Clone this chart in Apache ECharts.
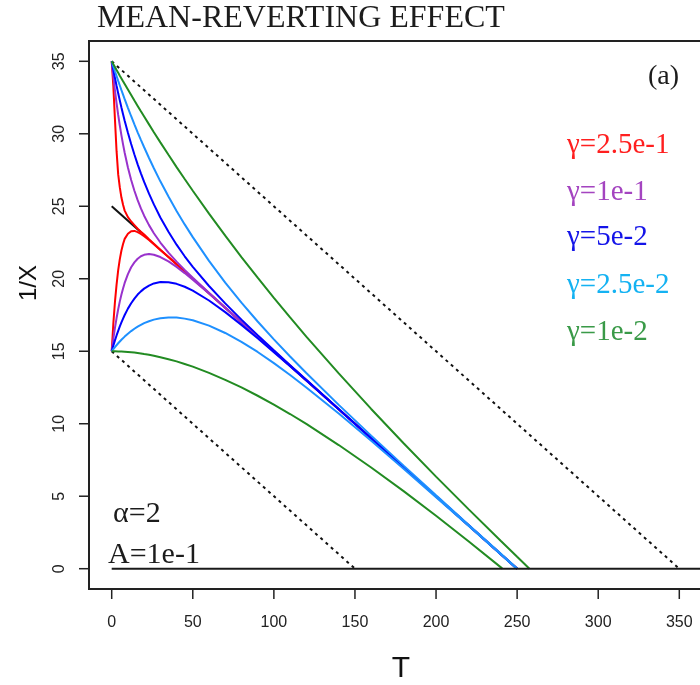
<html>
<head>
<meta charset="utf-8">
<script src="https://cdn.jsdelivr.net/npm/echarts@6/dist/echarts.min.js"></script>
<style>
  html, body { margin: 0; padding: 0; background: #fff; }
  #main { width: 700px; height: 685px; }
</style>
</head>
<body>
<div id="main"></div>
<script>
var chart = echarts.init(document.getElementById('main'));

// shared time grid (T) for all curves
var T = [0, 1, 2, 3, 4, 5, 6, 7, 8, 10, 12, 14, 16, 18, 20, 23, 26, 30, 35, 40, 45, 50,
         60, 70, 80, 90, 100, 110, 120, 140, 160, 180, 200, 220, 240, 250];

// 1/X, start 35 (hi) and start 15 (lo)
var redHi = [35, 33.3, 31.0, 28.8, 27.2, 26.3, 25.6, 25.1, 24.7, 24.25, 23.95, 23.7, 23.45, 23.25, 23.05, 22.72, 22.42, 22.0, 21.5, 21, 20.5, 20,
             19, 18, 17, 16, 15, 14, 13, 11, 9, 7, 5, 3, 1, 0];
var redLo = [15, 16.9, 18.4, 19.6, 20.6, 21.35, 21.95, 22.4, 22.75, 23.1, 23.28, 23.3, 23.22, 23.09, 22.93, 22.67, 22.38, 21.99, 21.5, 21, 20.5, 20,
             19, 18, 17, 16, 15, 14, 13, 11, 9, 7, 5, 3, 1, 0];
var purpleHi = [35, 33.95, 32.99, 32.11, 31.30, 30.57, 29.89, 29.27, 28.69, 27.68, 26.81, 26.07, 25.42, 24.85, 24.35, 23.70, 23.14, 22.50, 21.80, 21.18, 20.61, 20.07,
                19.03, 18.01, 17.0, 16, 15, 14, 13, 11, 9, 7, 5, 3, 1, 0];
var purpleLo = [15, 15.85, 16.61, 17.29, 17.90, 18.44, 18.91, 19.33, 19.71, 20.32, 20.79, 21.13, 21.38, 21.55, 21.65, 21.70, 21.66, 21.50, 21.20, 20.82, 20.39, 19.93,
                18.98, 17.99, 17.0, 16, 15, 14, 13, 11, 9, 7, 5, 3, 1, 0];
var blueHi = [35, 34.41, 33.85, 33.31, 32.79, 32.29, 31.81, 31.35, 30.90, 30.07, 29.29, 28.57, 27.89, 27.27, 26.68, 25.87, 25.13, 24.23, 23.24, 22.35, 21.55, 20.82,
              19.50, 18.30, 17.18, 16.11, 15.07, 14.04, 13.03, 11.01, 9, 7, 5, 3, 1, 0];
var blueLo = [15, 15.39, 15.75, 16.09, 16.41, 16.71, 16.99, 17.25, 17.50, 17.94, 18.31, 18.63, 18.91, 19.13, 19.32, 19.53, 19.68, 19.77, 19.76, 19.65, 19.45, 19.18,
              18.50, 17.70, 16.82, 15.89, 14.93, 13.96, 12.98, 10.99, 9, 7, 5, 3, 1, 0];
var skyHi = [35, 34.65, 34.31, 33.98, 33.65, 33.33, 33.01, 32.70, 32.39, 31.79, 31.21, 30.65, 30.10, 29.58, 29.07, 28.33, 27.62, 26.72, 25.67, 24.68, 23.75, 22.87,
             21.23, 19.74, 18.35, 17.05, 15.82, 14.64, 13.50, 11.30, 9.18, 7.11, 5.07, 3.04, 1.03, 0.02];
var skyLo = [15, 15.15, 15.29, 15.42, 15.55, 15.68, 15.79, 15.91, 16.01, 16.21, 16.39, 16.55, 16.70, 16.82, 16.94, 17.07, 17.18, 17.28, 17.33, 17.32, 17.25, 17.14,
             16.77, 16.26, 15.65, 14.95, 14.18, 13.36, 12.50, 10.70, 8.82, 6.89, 4.93, 2.96, 0.98, 0];
var greenHi = [35, 34.80, 34.60, 34.40, 34.21, 34.01, 33.82, 33.62, 33.43, 33.05, 32.67, 32.29, 31.92, 31.55, 31.19, 30.65, 30.11, 29.41, 28.55, 27.70, 26.88, 26.07,
               24.49, 22.97, 21.49, 20.07, 18.68, 17.33, 16.01, 13.47, 11.02, 8.65, 6.35, 4.11, 1.91, 0.82];
var greenLo = [15, 15.0, 15.0, 15.0, 14.99, 14.99, 14.98, 14.98, 14.97, 14.95, 14.93, 14.91, 14.88, 14.85, 14.81, 14.76, 14.69, 14.59, 14.45, 14.30, 14.12, 13.94,
               13.51, 13.03, 12.51, 11.93, 11.32, 10.67, 9.99, 8.53, 6.98, 5.35, 3.65, 1.89, 0.09];

// T where each curve reaches 0 (hi, lo)
var redEnd = [250, 250];
var purpleEnd = [250, 250];
var blueEnd = [250, 250];
var skyEnd = [250.2, 249.8];
var greenEnd = [257.6, 241];

// dotted reference lines: start value and T where they reach 0
var dotStart = [35, 15];
var dotEnd = [350, 150];
// short black asymptote
var blackSeg = [[0, 25], [18, 23.2]];
var zeroLine = [[0, 0], [364, 0]];

var xTicks = [0, 50, 100, 150, 200, 250, 300, 350];
var yTicks = [0, 5, 10, 15, 20, 25, 30, 35];
var xMin = -14, xMax = 364, yMin = -1.4, yMax = 36.4;

var gammaLabels = ['γ=2.5e-1', 'γ=1e-1', 'γ=5e-2', 'γ=2.5e-2', 'γ=1e-2'];
var lineColors = ['#ff0000', '#9932cc', '#0000ff', '#1e90ff', '#228b22'];
var textColors = ['#ff1f1f', '#a444c0', '#1414e8', '#14b2f2', '#3a9a48'];

function curve(ys, end) {
    var pts = [];
    for (var i = 0; i < ys.length; i++) {
        if (T[i] < end) pts.push([T[i], ys[i]]);
    }
    pts.push([end, 0]);
    return pts;
}

function lineSeries(data, color, width, type) {
    return {
        type: 'line',
        data: data,
        showSymbol: false,
        silent: true,
        smooth: false,
        lineStyle: { color: color, width: width, type: type || 'solid' }
    };
}

// outward tick marks on the frame edge, placed through the axes' own scales
function tickSeries(values, isX) {
    return {
        type: 'custom',
        silent: true,
        clip: false,
        data: values.map(function (v) { return isX ? [v, yMin] : [xMin, v]; }),
        renderItem: function (params, api) {
            var p = api.coord([api.value(0), api.value(1)]);
            return {
                type: 'line',
                shape: isX ? { x1: p[0], y1: p[1], x2: p[0], y2: p[1] + 10 }
                           : { x1: p[0], y1: p[1], x2: p[0] - 10, y2: p[1] },
                style: { stroke: '#222', lineWidth: 1.5 }
            };
        }
    };
}

var pairs = [
    [redHi, redLo, redEnd],
    [purpleHi, purpleLo, purpleEnd],
    [blueHi, blueLo, blueEnd],
    [skyHi, skyLo, skyEnd],
    [greenHi, greenLo, greenEnd]
];

var series = [];
for (var d = 0; d < dotStart.length; d++) {
    series.push(lineSeries([[0, dotStart[d]], [dotEnd[d], 0]], '#111', 2, [3, 4]));
}
series.push(lineSeries(blackSeg, '#111', 2));
pairs.forEach(function (p, k) {
    series.push(lineSeries(curve(p[0], p[2][0]), lineColors[k], 2));
    series.push(lineSeries(curve(p[1], p[2][1]), lineColors[k], 2));
});
series.push(lineSeries(zeroLine, '#1a1a1a', 2));
series.push(tickSeries(xTicks, true));
series.push(tickSeries(yTicks, false));

var serif = '"Liberation Serif", serif';
var graphics = [
    { type: 'text', left: 97, top: 3, style: { text: 'MEAN-REVERTING EFFECT', font: '32px ' + serif, fill: '#1c1c1c' } },
    { type: 'text', left: 648, top: 63, style: { text: '(a)', font: '28px ' + serif, fill: '#1c1c1c' } },
    { type: 'text', left: 113, top: 499, style: { text: 'α=2', font: '30px ' + serif, fill: '#1c1c1c' } },
    { type: 'text', left: 108, top: 540, style: { text: 'A=1e-1', font: '30px ' + serif, fill: '#1c1c1c' } },
    { type: 'text', x: 401, y: 669, style: { text: 'T', font: '30px "Liberation Sans"', fill: '#111', align: 'center', verticalAlign: 'middle' } },
    { type: 'text', x: 29, y: 283, rotation: Math.PI / 2, style: { text: '1/X', font: '24px "Liberation Sans"', fill: '#111', align: 'center', verticalAlign: 'middle' } }
];
var legendTops = [131, 178, 223, 271, 318];
gammaLabels.forEach(function (t, k) {
    graphics.push({ type: 'text', left: 567, top: legendTops[k], style: { text: t, font: '29px ' + serif, fill: textColors[k] } });
});

chart.setOption({
    animation: false,
    grid: {
        left: 89, top: 41, width: 613, height: 548,
        show: true, borderColor: '#222', borderWidth: 2,
        outerBoundsMode: 'none'
    },
    xAxis: {
        type: 'value', min: xMin, max: xMax,
        axisLine: { show: false, onZero: false },
        splitLine: { show: false },
        axisTick: { show: false },
        axisLabel: { customValues: xTicks, fontSize: 16, color: '#222', margin: 26, fontFamily: 'Liberation Sans' }
    },
    yAxis: {
        type: 'value', min: yMin, max: yMax,
        axisLine: { show: false, onZero: false },
        splitLine: { show: false },
        axisTick: { show: false },
        axisLabel: { customValues: yTicks, fontSize: 16, color: '#222', margin: 21, rotate: 90, fontFamily: 'Liberation Sans' }
    },
    graphic: graphics,
    series: series
});

window.onresize = chart.resize;
</script>
</body>
</html>
